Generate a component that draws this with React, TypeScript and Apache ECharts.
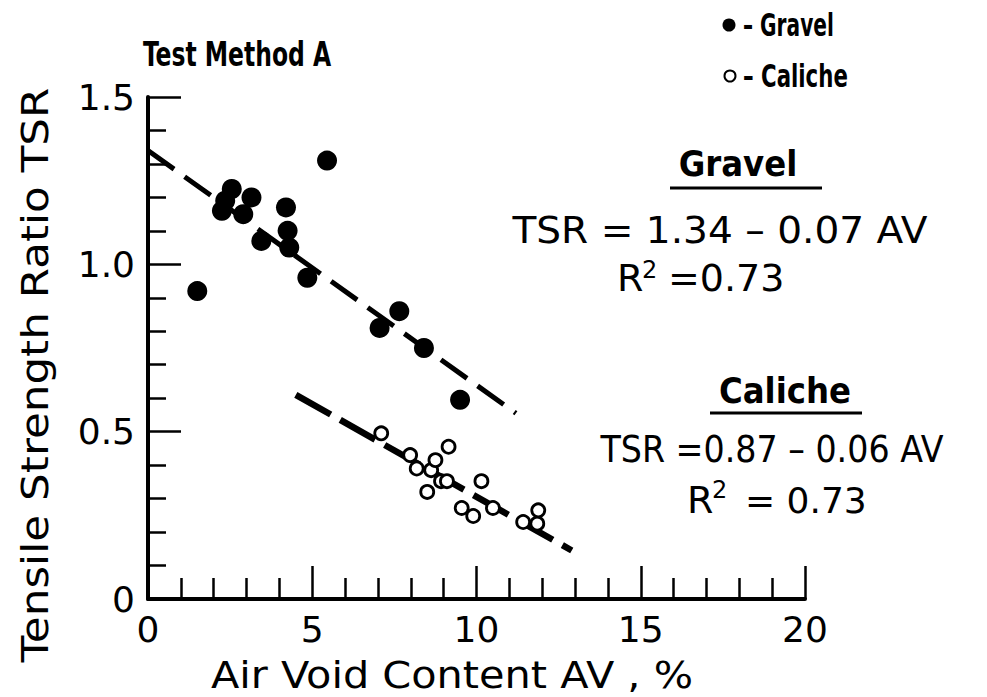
import React, { useEffect, useRef } from "react";
import * as echarts from "echarts";

// Air void content AV (%) vs tensile strength ratio TSR
const gravelPoints: [number, number][] = [
  [1.5, 0.92], [2.25, 1.16], [2.35, 1.19], [2.55, 1.225], [2.9, 1.15],
  [3.15, 1.2], [3.45, 1.07], [4.2, 1.17], [4.25, 1.1], [4.3, 1.05],
  [4.85, 0.96], [5.45, 1.31], [7.05, 0.81], [7.65, 0.86], [8.4, 0.75],
  [9.5, 0.595],
];
const calichePoints: [number, number][] = [
  [7.1, 0.495], [7.98, 0.43], [8.18, 0.39], [8.5, 0.32], [8.62, 0.385],
  [8.75, 0.415], [8.92, 0.352], [9.1, 0.352], [9.15, 0.455], [9.55, 0.272],
  [9.9, 0.248], [10.15, 0.352], [10.5, 0.272], [11.42, 0.23], [11.85, 0.225],
  [11.88, 0.265],
];
const gravelFit: [number, number][] = [[0, 1.34], [11.2, 0.555]];
const calicheFit: [number, number][] = [[4.5, 0.61], [12.9, 0.145]];

const xTickLabels = ["0", "5", "10", "15", "20"];
const yTickLabels = ["0", "0.5", "1.0", "1.5"];

const FONT = "DejaVu Sans, Noto Sans, sans-serif";
const COND = "DejaVu Sans Condensed, DejaVu Sans, sans-serif";

export default function App() {
  const ref = useRef<HTMLDivElement>(null);
  useEffect(() => {
    if (!ref.current) return;
    const chart = echarts.init(ref.current, undefined, { renderer: "svg" });
    const txt = (text: string, x: number, y: number, size: number, extra: any = {}, sx = 1) => ({
      type: "text",
      x,
      y,
      scaleX: sx,
      silent: true,
      style: {
        text,
        fontSize: size,
        fontFamily: FONT,
        fill: "#000",
        textAlign: "left",
        textVerticalAlign: "middle",
        ...extra,
      },
    });
    chart.setOption({
      animation: false,
      backgroundColor: "#fff",
      grid: { left: 148, right: 182, top: 97, bottom: 98 },
      xAxis: {
        type: "value",
        min: 0,
        max: 20,
        interval: 5,
        axisLine: { show: true, onZero: false, lineStyle: { color: "#000", width: 4 } },
        axisTick: { show: true, inside: true, length: 33, lineStyle: { color: "#000", width: 2.5 } },
        minorTick: { show: true, splitNumber: 5, length: 21, lineStyle: { color: "#000", width: 2.5 } },
        splitLine: { show: false },
        axisLabel: {
          color: "#000",
          fontSize: 36,
          fontFamily: FONT,
          margin: 12,
          formatter: (v: number) => xTickLabels[Math.round(v / 5)] ?? "",
        },
      },
      yAxis: {
        type: "value",
        min: 0,
        max: 1.5,
        interval: 0.5,
        axisLine: { show: true, onZero: false, lineStyle: { color: "#000", width: 4 } },
        axisTick: { show: true, inside: true, length: 33, lineStyle: { color: "#000", width: 2.5 } },
        minorTick: { show: true, splitNumber: 5, length: 18, lineStyle: { color: "#000", width: 2.5 } },
        splitLine: { show: false },
        axisLabel: {
          color: "#000",
          fontSize: 36,
          fontFamily: FONT,
          margin: 13,
          formatter: (v: number) => yTickLabels[Math.round(v / 0.5)] ?? "",
        },
      },
      series: [
        {
          type: "line",
          data: gravelFit,
          symbol: "none",
          lineStyle: { color: "#000", width: 5, type: [32, 13], cap: "butt" },
          z: 1,
        },
        {
          type: "line",
          data: calicheFit,
          symbol: "none",
          lineStyle: { color: "#000", width: 6.5, type: [40, 11], cap: "butt" },
          z: 1,
        },
        {
          type: "scatter",
          data: gravelPoints,
          symbol: "circle",
          symbolSize: 20,
          itemStyle: { color: "#000", opacity: 1 },
          z: 3,
        },
        {
          type: "scatter",
          data: calichePoints,
          symbol: "circle",
          symbolSize: 13,
          itemStyle: { color: "#fff", borderColor: "#000", borderWidth: 2.8, opacity: 1 },
          z: 3,
        },
      ],
      graphic: [
        txt("Test Method A", 143, 54, 33, { fontFamily: COND, fontWeight: "bold" }, 0.79),
        { type: "circle", shape: { cx: 729, cy: 25, r: 6.5 }, style: { fill: "#000" }, silent: true },
        txt("– Gravel", 743, 25, 32, { fontFamily: COND, fontWeight: "bold" }, 0.7),
        { type: "circle", shape: { cx: 730, cy: 76, r: 5.5 }, style: { fill: "#fff", stroke: "#000", lineWidth: 2 }, silent: true },
        txt("– Caliche", 743, 76, 32, { fontFamily: COND, fontWeight: "bold" }, 0.74),

        txt("Gravel", 738, 163, 36, { fontFamily: COND, fontWeight: "bold", textAlign: "center" }),
        { type: "line", shape: { x1: 670, y1: 188, x2: 822, y2: 188 }, style: { stroke: "#000", lineWidth: 3 }, silent: true },
        txt("TSR = 1.34 – 0.07 AV", 720, 230, 37, { textAlign: "center" }, 1.056),
        txt("R", 617, 278, 38),
        txt("2", 642, 270, 24),
        txt("=0.73", 668, 278, 38),

        txt("Caliche", 785, 390, 36, { fontFamily: COND, fontWeight: "bold", textAlign: "center" }),
        { type: "line", shape: { x1: 710, y1: 413, x2: 862, y2: 413 }, style: { stroke: "#000", lineWidth: 3 }, silent: true },
        txt("TSR =0.87 – 0.06 AV", 772, 449, 37, { textAlign: "center" }, 0.9),
        txt("R", 687, 500, 38),
        txt("2", 712, 490, 24),
        txt("= 0.73", 745, 500, 36),

        txt("Air Void Content AV , %", 452, 675, 38, { textAlign: "center" }, 1.09),
        {
          type: "text",
          x: 35,
          y: 375,
          rotation: Math.PI / 2,
          scaleX: 1.18,
          silent: true,
          style: {
            text: "Tensile Strength Ratio TSR",
            fontSize: 37,
            fontFamily: FONT,
            fill: "#000",
            textAlign: "center",
            textVerticalAlign: "middle",
          },
        },
      ],
    });
    return () => chart.dispose();
  }, []);
  return (
    <div
      ref={ref}
      style={{ position: "absolute", left: 0, top: 0, width: 987, height: 697 }}
    />
  );
}
